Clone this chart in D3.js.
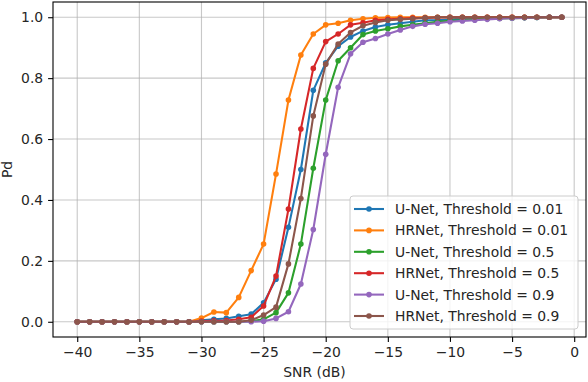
<!DOCTYPE html>
<html>
<head>
<meta charset="utf-8">
<script src="https://cdn.jsdelivr.net/npm/d3@7"></script>
<style>
    body { margin: 0; background: #fff; }
    text { font-family: "DejaVu Sans", sans-serif; fill: #262626; }
</style>
</head>
<body>
<div id="chart"></div>
<script>
// SNR values, -40 .. -1 dB
const snr = d3.range(-40, 0);

// detection probability per model / threshold
const unet001 = [0,0,0,0,0,0,0,0,0,0, 0.005,0.008,0.011,0.018,0.025,0.062,0.14,0.31,0.50,0.76,
    0.85,0.905,0.935,0.955,0.968,0.975,0.98,0.985,0.99,0.99, 0.993,0.995,0.996,0.997,0.998,0.998,0.999,0.999,1.0,1.0];
const hrnet001 = [0,0,0,0,0,0,0,0,0,0, 0.012,0.032,0.03,0.08,0.168,0.255,0.485,0.728,0.876,0.945,
    0.975,0.98,0.99,0.995,0.998,0.999,1.0,1.0,1.0,1.0, 1.0,1.0,1.0,1.0,1.0,1.0,1.0,1.0,1.0,1.0];
const unet05 = [0,0,0,0,0,0,0,0,0,0, 0,0,0,0,0.002,0.008,0.03,0.095,0.255,0.504,
    0.728,0.857,0.90,0.943,0.955,0.962,0.97,0.975,0.98,0.985, 0.988,0.99,0.993,0.995,0.996,0.997,0.998,0.999,1.0,1.0];
const hrnet05 = [0,0,0,0,0,0,0,0,0,0, 0.002,0.003,0.004,0.008,0.015,0.052,0.15,0.37,0.633,0.832,
    0.92,0.945,0.975,0.982,0.99,0.993,0.995,0.997,0.998,0.999, 1.0,1.0,1.0,1.0,1.0,1.0,1.0,1.0,1.0,1.0];
const unet09 = [0,0,0,0,0,0,0,0,0,0, 0,0,0,0,0,0.002,0.011,0.033,0.124,0.303,
    0.55,0.77,0.88,0.918,0.93,0.945,0.958,0.97,0.977,0.98, 0.985,0.988,0.99,0.993,0.995,0.997,0.998,0.999,1.0,1.0];
const hrnet09 = [0,0,0,0,0,0,0,0,0,0, 0,0,0,0,0.005,0.022,0.048,0.19,0.405,0.676,
    0.846,0.912,0.95,0.972,0.983,0.99,0.993,0.995,0.998,1.0, 1.0,1.0,1.0,1.0,1.0,1.0,1.0,1.0,1.0,1.0];

const seriesNames = ["U-Net, Threshold = 0.01", "HRNet, Threshold = 0.01", "U-Net, Threshold = 0.5",
    "HRNet, Threshold = 0.5", "U-Net, Threshold = 0.9", "HRNet, Threshold = 0.9"];
const seriesValues = [unet001, hrnet001, unet05, hrnet05, unet09, hrnet09];
const colors = ["#1f77b4", "#ff7f0e", "#2ca02c", "#d62728", "#9467bd", "#8c564b"];

const xTicks = [-40, -35, -30, -25, -20, -15, -10, -5, 0];
const yTicks = [0, 0.2, 0.4, 0.6, 0.8, 1.0];

// margin conventions
const W = 588, H = 382;
const margin = {top: 2, right: 2, bottom: 45, left: 53};
const width = W - margin.left - margin.right;
const height = H - margin.top - margin.bottom;

const svg = d3.select("#chart").append("svg")
    .attr("width", W)
    .attr("height", H)
    .append("g")
    .attr("transform", "translate(" + margin.left + "," + margin.top + ")");

// 5% padding like matplotlib
const x = d3.scaleLinear().domain([-41.95, 0.95]).range([0, width]);
const y = d3.scaleLinear().domain([-0.05, 1.05]).range([height, 0]);

// grid
svg.append("g").selectAll("line.gx")
    .data(xTicks).enter().append("line")
    .attr("x1", d => x(d)).attr("x2", d => x(d))
    .attr("y1", 0).attr("y2", height)
    .attr("stroke", "#b0b0b0").attr("stroke-width", 1.1).attr("stroke-opacity", 0.7);
svg.append("g").selectAll("line.gy")
    .data(yTicks).enter().append("line")
    .attr("y1", d => y(d)).attr("y2", d => y(d))
    .attr("x1", 0).attr("x2", width)
    .attr("stroke", "#b0b0b0").attr("stroke-width", 1.1).attr("stroke-opacity", 0.7);

// axes
const xAxis = svg.append("g")
    .attr("transform", "translate(0," + height + ")")
    .call(d3.axisBottom(x).tickValues(xTicks).tickSize(4.9).tickPadding(4.9)
        .tickFormat(d => d < 0 ? "\u2212" + Math.abs(d) : d));
const yAxis = svg.append("g")
    .call(d3.axisLeft(y).tickValues(yTicks).tickSize(4.9).tickPadding(4.9).tickFormat(d3.format(".1f")));
[xAxis, yAxis].forEach(a => {
    a.select(".domain").remove();
    a.selectAll("line").attr("stroke", "#000").attr("stroke-width", 1.1);
    a.selectAll("text").style("font-size", "13.9px").attr("fill", "#262626");
});

// lines + markers
const line = d3.line().x((d, i) => x(snr[i])).y(d => y(d));
seriesValues.forEach(function(vals, k) {
    const g = svg.append("g");
    g.append("path")
        .attr("d", line(vals))
        .attr("fill", "none")
        .attr("stroke", colors[k])
        .attr("stroke-width", 2.08)
        .attr("stroke-linejoin", "round");
    g.selectAll("circle").data(vals).enter().append("circle")
        .attr("cx", (d, i) => x(snr[i]))
        .attr("cy", d => y(d))
        .attr("r", 2.8)
        .attr("fill", colors[k]);
});

// frame
svg.append("rect")
    .attr("width", width).attr("height", height)
    .attr("fill", "none").attr("stroke", "#000").attr("stroke-width", 1.1);

// axis labels
svg.append("text")
    .attr("x", width / 2 - 5)
    .attr("y", height + 40)
    .attr("text-anchor", "middle")
    .style("font-size", "13.9px")
    .text("SNR (dB)");
svg.append("text")
    .attr("transform", "translate(" + (-41.5) + "," + (height / 2) + ") rotate(-90)")
    .attr("text-anchor", "middle")
    .style("font-size", "13.9px")
    .text("Pd");

// legend
const lg = svg.append("g").attr("transform", "translate(" + (350 - margin.left) + "," + (196 - margin.top) + ")");
lg.append("rect")
    .attr("width", 228).attr("height", 133)
    .attr("rx", 3)
    .attr("fill", "#fff").attr("fill-opacity", 0.8)
    .attr("stroke", "#cccccc").attr("stroke-width", 1);
seriesNames.forEach(function(name, k) {
    const cy = 13 + k * 21.4;
    lg.append("line")
        .attr("x1", 4).attr("x2", 34).attr("y1", cy).attr("y2", cy)
        .attr("stroke", colors[k]).attr("stroke-width", 2.08);
    lg.append("circle").attr("cx", 19).attr("cy", cy).attr("r", 2.8).attr("fill", colors[k]);
    lg.append("text")
        .attr("x", 45).attr("y", cy + 5)
        .style("font-size", "13.9px")
        .text(name);
});
</script>
</body>
</html>
